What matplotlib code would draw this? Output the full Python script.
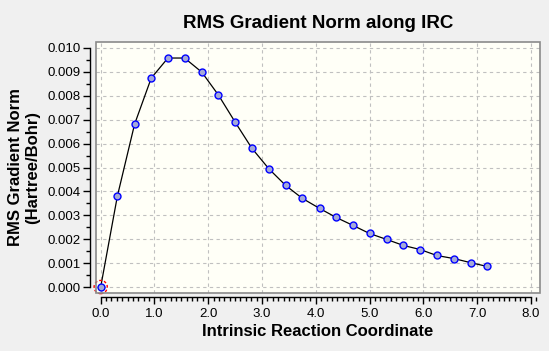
import numpy as np
import matplotlib
matplotlib.use("Agg")
import matplotlib.pyplot as plt
from matplotlib.patches import Rectangle
from matplotlib.ticker import MultipleLocator, FormatStrFormatter

plt.rcParams['font.family'] = ['Liberation Sans', 'DejaVu Sans']

# IRC coordinate and RMS gradient norm (Hartree/Bohr)
irc = [0.00, 0.31, 0.63, 0.94, 1.25, 1.56, 1.88, 2.19, 2.50, 2.81, 3.13, 3.44,
       3.75, 4.07, 4.38, 4.69, 5.00, 5.32, 5.63, 5.94, 6.25, 6.57, 6.88, 7.19]
rms_grad = [0.00000, 0.00380, 0.00681, 0.00874, 0.00958, 0.00958, 0.00899, 0.00803,
            0.00690, 0.00581, 0.00494, 0.00425, 0.00371, 0.00329, 0.00291, 0.00258,
            0.00224, 0.00199, 0.00174, 0.00157, 0.00132, 0.00119, 0.00102, 0.00086]

title = "RMS Gradient Norm along IRC"
xlabel = "Intrinsic Reaction Coordinate"
ylabel = "RMS Gradient Norm\n(Hartree/Bohr)"

fig = plt.figure(figsize=(5.49, 3.51), dpi=100, facecolor="#f0f0f0")
ax = fig.add_axes([0.1743, 0.1652, 0.8093, 0.7151])
ax.set_facecolor("#fffff7")

ax.plot(irc, rms_grad, color="black", lw=0.9, zorder=3)
ax.plot(irc, rms_grad, ls="none", marker="o", ms=5, mfc="#a4a9d8", mec="#0000ff",
        mew=1.0, zorder=4)
# selected point marked with a dashed red ring
ax.scatter(irc[:1], rms_grad[:1], s=90, facecolors="none", edgecolors="red",
           linestyle=(0, (2, 1.5)), linewidths=1.0, zorder=5, clip_on=False)

ax.set_xlim(-0.093, 8.17)
ax.set_ylim(-0.00025, 0.01025)

ax.xaxis.set_major_locator(MultipleLocator(1.0))
ax.xaxis.set_minor_locator(MultipleLocator(0.1))
ax.yaxis.set_major_locator(MultipleLocator(0.001))
ax.yaxis.set_minor_locator(MultipleLocator(0.0005))
ax.xaxis.set_major_formatter(FormatStrFormatter("%.1f"))
ax.yaxis.set_major_formatter(FormatStrFormatter("%.3f"))

ax.grid(True, which="major", color="#c0c0c0", ls=(0, (3, 3)), lw=0.8)
ax.set_axisbelow(True)

for s in ["top", "right"]:
    ax.spines[s].set_visible(False)
ax.spines["left"].set_position(("outward", 4))
ax.spines["bottom"].set_position(("outward", 3))
ax.spines["left"].set_bounds(0, 0.010)
ax.spines["bottom"].set_bounds(0, 8.0)
for s in ["left", "bottom"]:
    ax.spines[s].set_linewidth(1.0)
    ax.spines[s].set_color("black")

ax.tick_params(which="major", direction="out", length=5, width=1.0,
               labelsize=9.5, pad=2)
ax.tick_params(which="minor", direction="out", length=3, width=1.0)
ax.tick_params(axis="x", which="major", pad=3)

# grey box around the plot area
ax.add_patch(Rectangle((0, 0), 1, 1, transform=ax.transAxes, fill=False,
                       edgecolor="#8a8a8a", lw=1.2, clip_on=False, zorder=6))

ax.set_title(title, fontsize=13.5, fontweight="bold", pad=10)
ax.set_xlabel(xlabel, fontsize=12, fontweight="bold", labelpad=3)
ax.set_ylabel(ylabel, fontsize=12, fontweight="bold", labelpad=5)

fig.savefig("out.png", dpi=100, facecolor=fig.get_facecolor())
